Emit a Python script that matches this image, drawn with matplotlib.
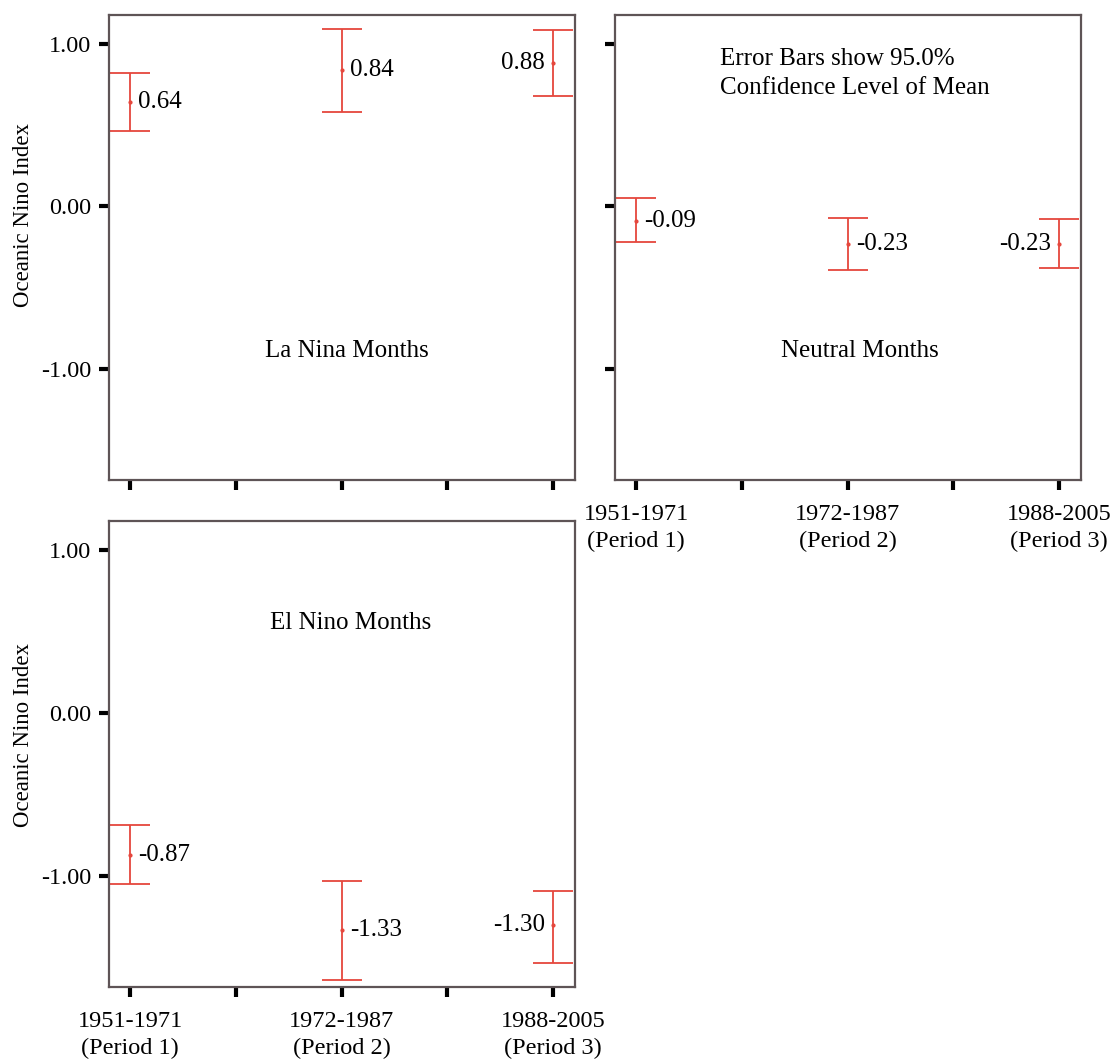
import matplotlib
matplotlib.use("Agg")
import matplotlib.pyplot as plt

plt.rcParams["font.family"] = ["Liberation Serif", "DejaVu Serif"]

# Period categories
periods = ["1951-1971\n(Period 1)", "1972-1987\n(Period 2)", "1988-2005\n(Period 3)"]

# Mean Oceanic Nino Index with 95% confidence limits per period
la_nina_mean = [0.64, 0.84, 0.88]
la_nina_lo = [0.46, 0.58, 0.68]
la_nina_hi = [0.82, 1.09, 1.08]

neutral_mean = [-0.09, -0.23, -0.23]
neutral_lo = [-0.22, -0.39, -0.38]
neutral_hi = [0.05, -0.07, -0.08]

el_nino_mean = [-0.87, -1.33, -1.30]
el_nino_lo = [-1.05, -1.64, -1.53]
el_nino_hi = [-0.69, -1.03, -1.09]

y_ticks = [-1.0, 0.0, 1.0]
y_tick_labels = ["-1.00", "0.00", "1.00"]

RED = "#E5473D"
FRAME = "#5e5456"
FS = 17.5
FS_NOTE = 18

W, H = 1118, 1064
fig = plt.figure(figsize=(W / 100, H / 100), dpi=100)
fig.patch.set_facecolor("white")


def px_axes(left, top, right, bottom):
    return fig.add_axes([left / W, 1 - bottom / H, (right - left) / W, (bottom - top) / H])


def draw_panel(ax, means, lo, hi, title, title_xy, show_ylabels, show_xlabels):
    x = list(range(len(means)))
    yerr = [[m - l for m, l in zip(means, lo)], [h - m for m, h in zip(means, hi)]]
    ax.errorbar(x, means, yerr=yerr, fmt="o", ms=2, mfc=RED, mec=RED,
                ecolor=RED, elinewidth=1.3, capsize=14.5, capthick=1.3, color=RED)
    for i, m in enumerate(means):
        if i == len(means) - 1:
            ax.annotate(f"{m:.2f}", (i, m), xytext=(-6, 0), textcoords="offset points",
                        ha="right", va="center", fontsize=FS_NOTE)
        else:
            ax.annotate(f"{m:.2f}", (i, m), xytext=(6, 0), textcoords="offset points",
                        ha="left", va="center", fontsize=FS_NOTE)
    ax.text(title_xy[0], title_xy[1], title, ha="left", va="center", fontsize=FS_NOTE)

    ax.set_xlim(-0.1, 2.104)
    ax.set_ylim(-1.68, 1.175)
    ax.set_xticks([0, 0.5, 1, 1.5, 2])
    if show_xlabels:
        ax.set_xticklabels([periods[0], "", periods[1], "", periods[2]], linespacing=1.4)
    else:
        ax.set_xticklabels([])
    ax.set_yticks(y_ticks)
    if show_ylabels:
        ax.set_yticklabels(y_tick_labels)
        ax.set_ylabel("Oceanic Nino Index", fontsize=16.5)
    else:
        ax.set_yticklabels([])
    ax.tick_params(axis="both", direction="out", length=7, width=3, color="black",
                   labelsize=FS)
    ax.tick_params(axis="x", pad=10)
    ax.tick_params(axis="y", pad=6)
    for s in ax.spines.values():
        s.set_color(FRAME)
        s.set_linewidth(1.6)


ax1 = px_axes(109, 15, 575, 480)
draw_panel(ax1, la_nina_mean, la_nina_lo, la_nina_hi, "La Nina Months", (0.64, -0.89),
           True, False)
ax1.yaxis.set_label_coords(-0.16, 0.57)

ax2 = px_axes(615, 15, 1081, 480)
draw_panel(ax2, neutral_mean, neutral_lo, neutral_hi, "Neutral Months", (0.686, -0.89),
           False, True)
ax2.text(0.397, 0.818, "Error Bars show 95.0%\nConfidence Level of Mean",
         ha="left", va="center", fontsize=FS_NOTE, linespacing=1.4)

ax3 = px_axes(109, 521, 575, 987)
draw_panel(ax3, el_nino_mean, el_nino_lo, el_nino_hi, "El Nino Months", (0.66, 0.55),
           True, True)
ax3.yaxis.set_label_coords(-0.16, 0.54)

fig.savefig("out.png", dpi=100, facecolor="white")
